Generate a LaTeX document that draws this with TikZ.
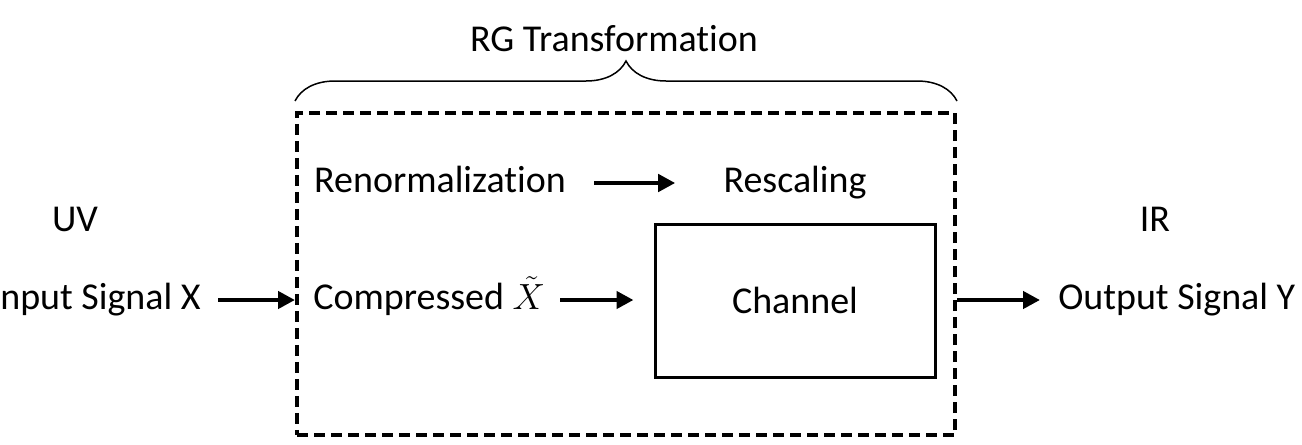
\documentclass[tikz,border=0pt]{standalone}
\usepackage{fontspec}
\setmainfont{Carlito}[Ligatures=NoCommon]
\usetikzlibrary{arrows.meta,decorations.pathreplacing}

\begin{document}
\begin{tikzpicture}
		\tikzset{txt/.style = {inner sep = 0pt, text height = 1.3em, text depth = 0.22em, font=\fontsize{21.6}{26}\selectfont},
			arr/.style = {line width = 0.09cm, -{Triangle[length=0.34cm,width=0.34cm]}},
			frame/.style = {draw, line width = 0.08cm, dash pattern = on 0.22cm off 0.12cm, minimum width = 13.16cm, minimum height = 6.44cm},
			chanbox/.style = {draw, line width = 0.06cm, minimum width = 5.6cm, minimum height = 3.06cm, font=\fontsize{21.6}{26}\selectfont}}

		\useasboundingbox (0,0) rectangle (26.04,8.88);

		\node[frame] (G) at (12.52,3.4) {};
		\node[chanbox] (C) at (15.9,2.87) {Channel};

		\node[txt] (RG) at (12.28,8.04) {RG Transformation};
		\node[txt] (Ren) at (8.8,5.22) {Renormalization};
		\node[txt] (Res) at (15.9,5.22) {Rescaling};
		\node[txt] (UV) at (1.5,4.44) {UV};
		\node[txt] (IR) at (23.1,4.44) {IR};
		\node[txt, anchor=east] (X) at (4.02,2.88) {Input Signal X};
		\node[txt, anchor=west] (Xt) at (6.26,2.88) {Compressed $\tilde{X}$};
		\node[txt, anchor=west] (Y) at (21.16,2.88) {Output Signal Y};

		%brace
		\draw[line width = 0.03cm, decorate, decoration={brace, amplitude=0.8cm}]
			([yshift=0.2cm]G.north west) -- ([yshift=0.2cm]G.north east);

		%arrows
		\draw[arr, shorten <= 0.56cm, shorten >= 0.96cm] (Ren) -- (Res);
		\draw[arr, shorten <= 0.34cm] (X) -- (G.west |- X);
		\draw[arr, shorten <= 0.3cm, shorten >= 0.4cm] (Xt) -- (C.west |- Xt);
		\draw[arr, shorten >= 0.36cm] (G.east |- Y) -- (Y);

	\end{tikzpicture}
\end{document}
